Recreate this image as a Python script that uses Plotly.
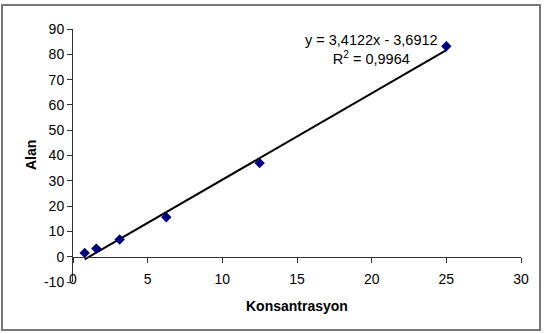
import plotly.graph_objects as go

# Data
konsantrasyon = [0.78, 1.56, 3.125, 6.25, 12.5, 25]
alan = [1.5, 3.2, 6.8, 15.6, 37.0, 83.2]
slope = 3.4122
intercept = -3.6912
r2_text = "0,9964"
eq_text = "y = 3,4122x - 3,6912"
x_ticks = [0, 5, 10, 15, 20, 25, 30]
y_ticks = [-10, 0, 10, 20, 30, 40, 50, 60, 70, 80, 90]
y_tick_labels = ["-10", "0", "10", "20", "30", "40", "50", "60", "70", "80", "90"]

x_fit = [min(konsantrasyon), max(konsantrasyon)]
y_fit = [slope * x + intercept for x in x_fit]

W, H = 546, 334
ml, mr, mt, mb = 73, 25, 29, 52

fig = go.Figure()
fig.add_trace(go.Scatter(x=x_fit, y=y_fit, mode="lines",
                         line=dict(color="black", width=2), showlegend=False, hoverinfo="skip"))
fig.add_trace(go.Scatter(x=konsantrasyon, y=alan, mode="markers",
                         marker=dict(symbol="diamond", size=8, color="#000080"),
                         showlegend=False))

FAM = "Liberation Sans, Arial, sans-serif"
font = dict(family=FAM, size=14, color="black")

fig.update_layout(
    width=W, height=H,
    margin=dict(l=ml, r=mr, t=mt, b=mb),
    paper_bgcolor="white", plot_bgcolor="white",
    font=font,
    xaxis=dict(range=[0, 30], tickvals=x_ticks, showgrid=False, zeroline=False,
               showline=True, linecolor="#333", linewidth=1,
               ticks="outside", ticklen=5, tickcolor="#333",
               anchor="free", position=0.1, ticklabelstandoff=4,
               tickfont=font),
    yaxis=dict(range=[-10, 90], tickvals=y_ticks, ticktext=y_tick_labels,
               showgrid=False, zeroline=False,
               showline=True, linecolor="#333", linewidth=1,
               ticks="outside", ticklen=5, tickcolor="#333",
               tickfont=font, domain=[0, 1]),
)

# Axis titles
fig.add_annotation(text="<b>Konsantrasyon</b>", xref="paper", yref="paper",
                   x=0.5, y=-(306 - (H - mb)) / (H - mt - mb), showarrow=False,
                   font=dict(family=FAM, size=14, color="black"),
                   yanchor="middle")
fig.add_annotation(text="<b>Alan</b>", xref="paper", yref="paper",
                   x=(31 - ml) / (W - ml - mr), y=((H - mb) - 155) / (H - mt - mb),
                   textangle=-90, showarrow=False,
                   font=dict(family=FAM, size=14, color="black"),
                   xanchor="center", yanchor="middle")

# Equation
fig.add_annotation(text=eq_text + "<br>R<sup>2</sup> = " + r2_text,
                   xref="x", yref="paper",
                   x=(371 - ml) / (W - ml - mr) * 30, y=((H - mb) - 50) / (H - mt - mb),
                   showarrow=False, align="center",
                   font=dict(family=FAM, size=14.5, color="black"),
                   xanchor="center", yanchor="middle")

# Chart frame
fig.add_shape(type="rect", xref="paper", yref="paper",
              x0=(2 - ml) / (W - ml - mr), x1=(540 - ml) / (W - ml - mr),
              y0=((H - mb) - 330) / (H - mt - mb), y1=((H - mb) - 5) / (H - mt - mb),
              line=dict(color="#777", width=2), layer="below")

fig.write_html("out.html")
